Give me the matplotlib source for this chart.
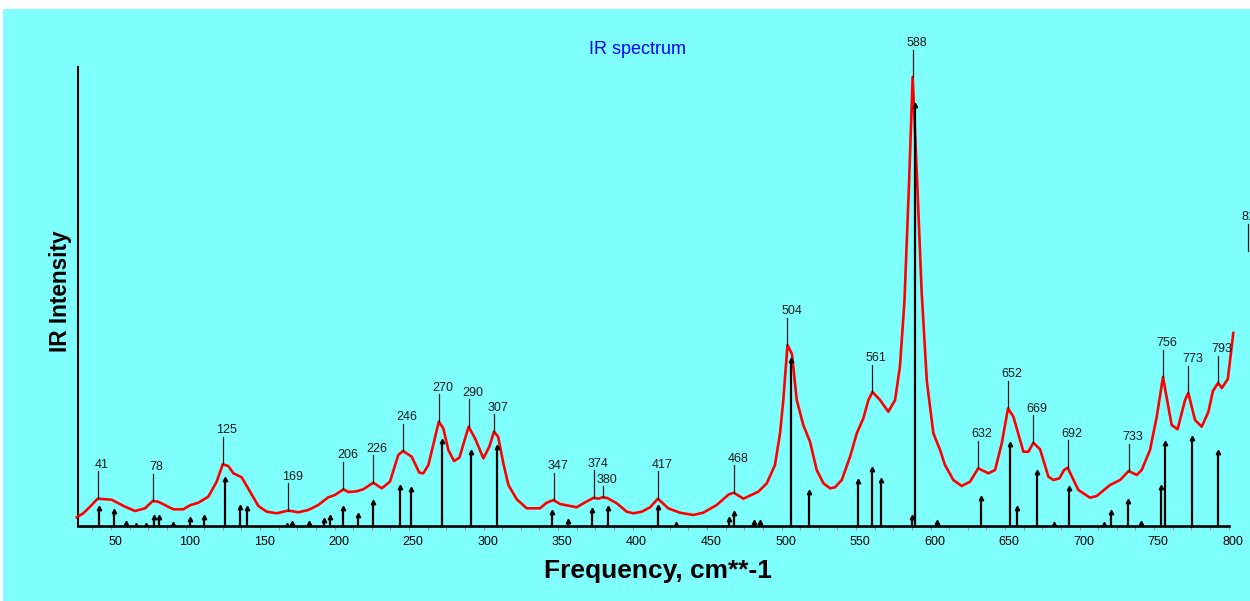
import matplotlib
matplotlib.use("Agg")
import matplotlib.pyplot as plt
import numpy as np
from matplotlib.patches import Rectangle
from matplotlib.transforms import ScaledTranslation, offset_copy

plt.rcParams['font.family'] = ['Liberation Sans', 'DejaVu Sans']

# Calculated vibrational modes: frequency (cm**-1) and IR intensity (arb. units)
stick_freq = [42.1, 52.0, 59.9, 66.8, 73.5, 78.9, 82.0, 91.8, 103.2, 112.4,
              126.7, 136.6, 141.3, 168.3, 171.3, 183.1, 193.0, 196.8, 205.9, 215.8,
              226.0, 244.2, 251.1, 272.0, 291.4, 308.8, 346.2, 356.9, 373.0, 383.8,
              417.2, 429.2, 464.6, 468.1, 481.3, 485.8, 506.6, 518.7, 551.3, 560.5,
              566.6, 587.5, 589.6, 604.6, 633.7, 653.4, 658.1, 671.7, 683.1, 693.2,
              716.7, 721.1, 732.8, 741.1, 754.7, 757.4, 775.3, 793.0]
stick_int = [18, 15, 3, 1, 1, 9, 9, 2, 7, 9,
             47, 19, 18, 1, 3, 3, 6, 9, 18, 11,
             24, 39, 37, 85, 74, 79, 14, 5, 16, 18,
             19, 2, 7, 13, 4, 4, 166, 34, 45, 57,
             46, 9, 421, 4, 28, 82, 18, 54, 2, 38,
             2, 14, 25, 3, 39, 83, 88, 74]

# Broadened spectrum envelope
curve_freq = [27.0, 31.4, 36.4, 41.0, 50.4, 59.4, 66.1, 72.8, 78.0, 81.7,
              91.8, 98.5, 103.0, 108.6, 115.3, 120.9, 125.0, 128.7, 132.1, 137.7,
              143.3, 148.9, 154.5, 161.2, 169.0, 175.7, 182.4, 189.1, 195.8, 200.3,
              206.0, 209.3, 214.9, 219.3, 226.0, 231.7, 237.2, 242.8, 246.0, 251.8,
              256.9, 259.6, 263.0, 270.0, 273.0, 276.4, 280.2, 283.8, 290.0, 294.3,
              299.9, 303.9, 307.0, 309.8, 313.3, 316.7, 322.3, 329.0, 337.9, 342.4,
              347.0, 351.3, 362.5, 367.0, 374.0, 377.0, 380.0, 383.0, 389.4, 396.1,
              400.6, 406.2, 411.8, 417.0, 424.0, 431.8, 440.8, 447.5, 456.5, 464.5,
              468.0, 474.4, 484.4, 490.1, 495.6, 499.0, 501.2, 504.0, 507.0, 510.2,
              514.6, 519.1, 523.6, 528.1, 532.6, 535.9, 540.4, 546.0, 550.5, 554.9,
              558.3, 561.0, 566.1, 571.7, 576.2, 579.5, 582.5, 585.5, 588.0, 591.0,
              594.0, 597.5, 601.9, 606.4, 609.7, 615.3, 620.9, 626.5, 632.0, 638.8,
              643.3, 647.8, 652.0, 655.6, 662.3, 665.7, 669.0, 673.5, 679.1, 682.5,
              686.5, 689.6, 692.0, 699.2, 707.0, 711.5, 720.5, 727.2, 733.0, 738.4,
              741.7, 747.3, 751.8, 756.0, 761.8, 765.8, 770.8, 773.0, 777.5, 782.0,
              786.5, 789.5, 793.0, 795.5, 799.5, 803.2]
curve_int = [8.7, 12.7, 20.0, 27.3, 26.3, 19.3, 15.0, 17.7, 25.0, 24.3,
             16.7, 16.7, 20.7, 23.3, 29.3, 44.3, 61.7, 60.0, 52.7, 48.7,
             34.3, 20.0, 14.3, 12.7, 15.5, 13.7, 16.0, 21.0, 28.7, 31.0,
             36.7, 34.0, 34.7, 36.7, 43.3, 37.7, 44.3, 71.0, 75.0, 69.3,
             53.3, 52.7, 61.0, 104.3, 97.7, 76.0, 65.0, 68.3, 99.3, 87.7,
             67.7, 79.3, 94.3, 89.3, 62.7, 41.0, 26.7, 17.7, 17.7, 23.3,
             26.0, 22.0, 18.7, 22.7, 28.3, 27.3, 28.7, 28.0, 22.7, 14.3,
             12.7, 14.3, 18.7, 27.3, 17.7, 13.3, 11.0, 13.3, 21.0, 31.5,
             33.3, 27.3, 34.3, 42.7, 61.0, 92.7, 126.0, 181.0, 172.0, 126.0,
             101.0, 84.3, 56.0, 42.7, 37.7, 38.7, 46.0, 69.3, 92.7, 107.7,
             126.0, 134.0, 126.0, 114.3, 126.0, 160.0, 225.0, 340.0, 449.0, 345.0,
             235.0, 145.0, 92.7, 76.0, 61.0, 46.0, 40.0, 44.3, 57.7, 52.7,
             56.0, 82.7, 117.7, 109.3, 74.3, 74.3, 83.3, 76.7, 49.3, 46.0,
             47.7, 56.0, 58.3, 36.0, 28.3, 30.0, 41.0, 46.0, 55.0, 51.0,
             56.0, 76.0, 109.3, 149.0, 101.0, 96.7, 126.0, 133.0, 106.0, 99.3,
             114.3, 135.0, 143.0, 138.0, 147.0, 193.0]

# Labelled band maxima
peak_labels = [41, 78, 125, 169, 206, 226, 246, 270, 290, 307, 347, 374, 380,
               417, 468, 504, 561, 588, 632, 652, 669, 692, 733, 756, 773, 793, 813]
peak_heights = [27.3, 25.0, 61.7, 15.5, 36.7, 43.3, 75.0, 104.3, 99.3, 94.3, 26.0, 28.3, 28.7,
                27.3, 33.3, 181.0, 134.0, 449.0, 57.7, 117.7, 83.3, 58.3, 55.0, 149.0, 133.0, 143.0, 275.0]
leader_len = [27.5] * len(peak_labels)
leader_len[peak_labels.index(307)] = 17.7
leader_len[peak_labels.index(380)] = 11.3

W, H = 1250, 601
fig = plt.figure(figsize=(W / 100, H / 100), dpi=100)
fig.patch.set_facecolor('white')
fig.patches.append(Rectangle((3 / W, 0), 1 - 3 / W, (H - 9) / H,
                             transform=fig.transFigure, facecolor='#80ffff',
                             edgecolor='none', zorder=-10))

ax_l, ax_r, ax_t, ax_b = 78, 1229.3, 67, 526
ax = fig.add_axes([ax_l / W, (H - ax_b) / H, (ax_r - ax_l) / W, (ax_b - ax_t) / H])
ax.patch.set_alpha(0)
ax.set_xlim(27.85, 800.5)
ax.set_ylim(0, 459)

# Envelope and stick spectrum
ax.plot(curve_freq, curve_int, color='#ff0000', lw=1.9, clip_on=False, zorder=3)
ax.vlines(stick_freq, 0, stick_int, color='black', lw=1.6, zorder=4)
ax.plot(stick_freq, stick_int, linestyle='none', marker='^', ms=3.2,
        color='black', zorder=4)

# Peak labels with leader lines
txt_tr = offset_copy(ax.transData, fig=fig, x=4, y=0, units='dots')
for lab, h, L in zip(peak_labels, peak_heights, leader_len):
    ax.plot([lab, lab], [h, h + L], color='#1a1a1a', lw=0.9, clip_on=False, zorder=5)
    ax.text(lab, h + L + 3.4, str(lab), transform=txt_tr, ha='center',
            va='baseline', fontsize=9, color='#1a1a1a', clip_on=False)

# Axes styling
for side in ('top', 'right'):
    ax.spines[side].set_visible(False)
ax.spines['left'].set_linewidth(1.5)
ax.spines['bottom'].set_linewidth(1.9)
ax.set_yticks([])
ax.set_xticks(np.arange(50, 801, 50))
ax.set_xticks(np.arange(37.5, 801, 12.5), minor=True)
ax.tick_params(axis='x', which='both', direction='out', length=3, width=0.8,
               color='#a09090', labelsize=9, pad=4.5)
shift = ScaledTranslation(4 / 100, 0, fig.dpi_scale_trans)
for t in ax.get_xticklabels():
    t.set_transform(t.get_transform() + shift)

ax.set_xlabel('Frequency, cm**-1', fontsize=19, fontweight='bold', va='baseline')
ax.xaxis.set_label_coords((658 - ax_l) / (ax_r - ax_l), (ax_b - 578) / (ax_b - ax_t))
ax.set_ylabel('IR Intensity', fontsize=16.3, fontweight='bold', va='center')
ax.yaxis.set_label_coords((60 - ax_l) / (ax_r - ax_l), (ax_b - 291) / (ax_b - ax_t))

fig.text(637.5 / W, 1 - 49 / H, 'IR spectrum', ha='center', va='center',
         fontsize=13, color='#0000ff')

fig.savefig('out.png', dpi=100, facecolor=fig.get_facecolor())
